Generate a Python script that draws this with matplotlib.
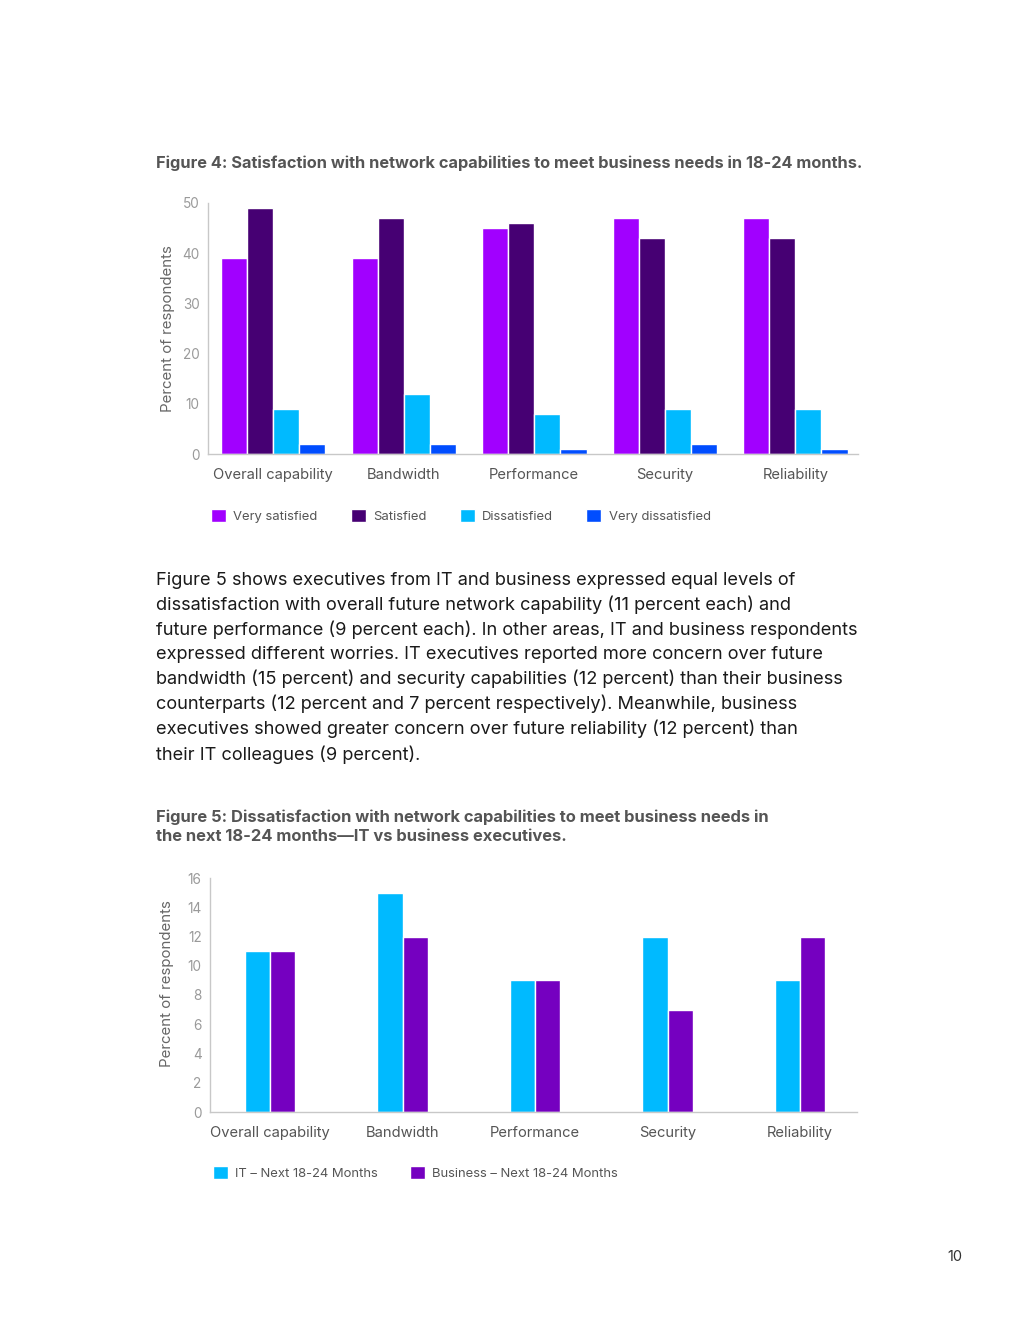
import numpy as np
import matplotlib
matplotlib.use('Agg')
import matplotlib.pyplot as plt

plt.rcParams['font.family'] = ['Inter', 'DejaVu Sans']

# ------------------------- Data -------------------------
categories = ['Overall capability', 'Bandwidth', 'Performance', 'Security', 'Reliability']

# Figure 4: satisfaction levels
very_satisfied = [39, 39, 45, 47, 47]
satisfied = [49, 47, 46, 43, 43]
dissatisfied = [9, 12, 8, 9, 9]
very_dissatisfied = [2, 2, 1, 2, 1]
fig4_labels = ['Very satisfied', 'Satisfied', 'Dissatisfied', 'Very dissatisfied']
fig4_colors = ['#A100FF', '#460073', '#00BAFF', '#004DFF']

# Figure 5: dissatisfaction IT vs business
it_next = [11, 15, 9, 12, 9]
business_next = [11, 12, 9, 7, 12]
fig5_labels = ['IT \u2013 Next 18-24 Months', 'Business \u2013 Next 18-24 Months']
fig5_colors = ['#00BAFF', '#7500C0']

fig4_yticks = [0, 10, 20, 30, 40, 50]
fig5_yticks = [0, 2, 4, 6, 8, 10, 12, 14, 16]

paragraph = ("Figure 5 shows executives from IT and business expressed equal levels of\n"
             "dissatisfaction with overall future network capability (11 percent each) and\n"
             "future performance (9 percent each). In other areas, IT and business respondents\n"
             "expressed different worries. IT executives reported more concern over future\n"
             "bandwidth (15 percent) and security capabilities (12 percent) than their business\n"
             "counterparts (12 percent and 7 percent respectively). Meanwhile, business\n"
             "executives showed greater concern over future reliability (12 percent) than\n"
             "their IT colleagues (9 percent).")

W, H = 1020, 1320
fig = plt.figure(figsize=(W / 100, H / 100), dpi=100)


def px_axes(left, top, right, bottom):
    return fig.add_axes([left / W, 1 - bottom / H, (right - left) / W, (bottom - top) / H])


def style_axes(ax, yticks, xlim, label_x, label_y):
    for s in ['top', 'right']:
        ax.spines[s].set_visible(False)
    for s in ['left', 'bottom']:
        ax.spines[s].set_color('#c8c8c8')
        ax.spines[s].set_linewidth(1.0)
    ax.set_xlim(*xlim)
    ax.set_ylim(yticks[0], yticks[-1])
    ax.set_yticks(yticks)
    ax.set_xticks(np.arange(len(categories)))
    ax.set_xticklabels(categories)
    ax.tick_params(axis='y', length=0, pad=6, labelsize=9.8, labelcolor='#9a9a9a')
    ax.tick_params(axis='x', length=0, pad=10, labelsize=10.6, labelcolor='#555555')
    ax.set_ylabel('Percent of respondents', fontsize=10.8, color='#666666')
    ax.yaxis.set_label_coords(label_x, label_y)


# ------------------------- Figure 4 -------------------------
fig.text(156 / W, 1 - 163 / H, 'Figure 4: Satisfaction with network capabilities to meet business needs in 18-24 months.',
         fontsize=11.8, fontweight='bold', color='#555555', va='center', ha='left')

ax1 = px_axes(208, 203, 858, 454)
x = np.arange(len(categories))
series4 = [very_satisfied, satisfied, dissatisfied, very_dissatisfied]
bw = 0.2
for i, (vals, col, lab) in enumerate(zip(series4, fig4_colors, fig4_labels)):
    ax1.bar(x + (i - 1.5) * bw, vals, width=bw, color=col, edgecolor='white', linewidth=1.0, label=lab)
style_axes(ax1, fig4_yticks, (-0.5, 4.48), -0.051, 0.5)
ax1.legend(loc='upper left', bbox_to_anchor=(-0.003, -0.2), ncol=4, frameon=False,
           handlelength=1.15, handleheight=1.15, handletextpad=0.55, columnspacing=2.55,
           fontsize=9.4, labelcolor='#555555', borderaxespad=0)

# ------------------------- Paragraph -------------------------
fig.text(156 / W, 1 - 572 / H, paragraph, fontsize=13.1, color='#1a1a1a', va='top', ha='left',
         linespacing=1.465)

# ------------------------- Figure 5 -------------------------
fig.text(156 / W, 1 - 827 / H,
         'Figure 5: Dissatisfaction with network capabilities to meet business needs in\n'
         'the next 18-24 months\u2014IT vs business executives.',
         fontsize=11.9, fontweight='bold', color='#555555', va='center', ha='left', linespacing=1.35)

ax2 = px_axes(210, 878, 857, 1112)
bw2 = 0.19
ax2.bar(x - bw2 / 2, it_next, width=bw2, color=fig5_colors[0], edgecolor='white', linewidth=1.0, label=fig5_labels[0])
ax2.bar(x + bw2 / 2, business_next, width=bw2, color=fig5_colors[1], edgecolor='white', linewidth=1.0, label=fig5_labels[1])
style_axes(ax2, fig5_yticks, (-0.453, 4.43), -0.055, 0.547)
ax2.legend(loc='upper left', bbox_to_anchor=(-0.003, -0.21), ncol=2, frameon=False,
           handlelength=1.15, handleheight=1.15, handletextpad=0.55, columnspacing=2.4,
           fontsize=9.4, labelcolor='#555555', borderaxespad=0)

# page number
fig.text(962 / W, 1 - 1257 / H, '10', fontsize=10.5, color='#333333', ha='right', va='center')

fig.savefig('out.png', dpi=100, facecolor='white')
